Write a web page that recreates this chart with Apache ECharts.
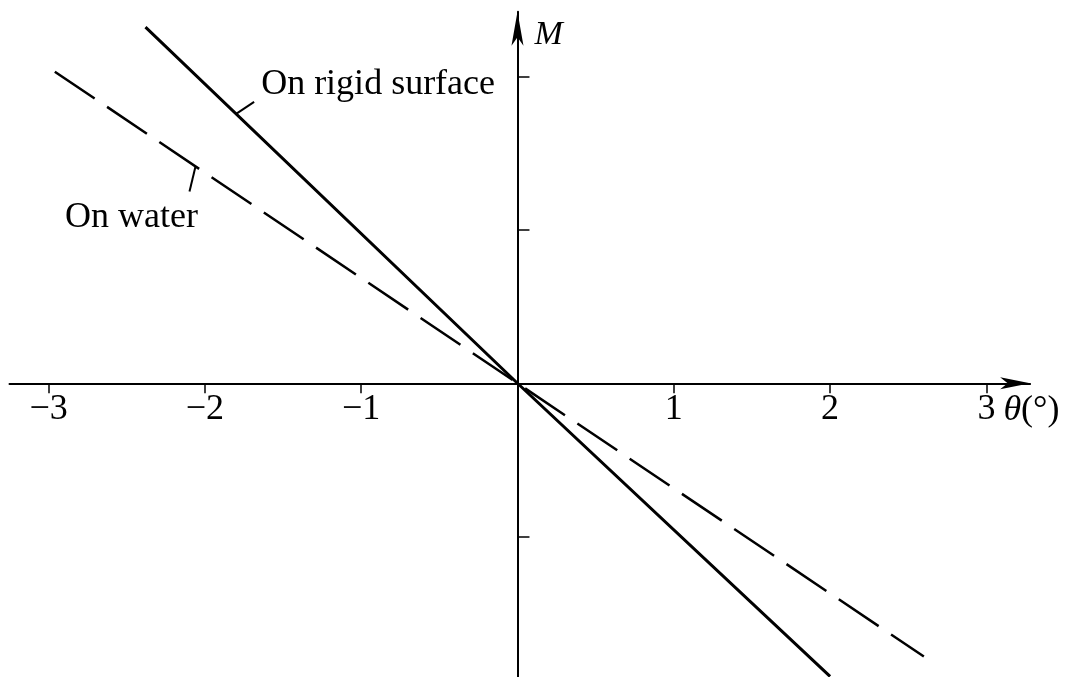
<!DOCTYPE html>
<html>
<head>
<meta charset="utf-8">
<script src="https://cdn.jsdelivr.net/npm/echarts@6/dist/echarts.min.js"></script>
<style>
  html, body { margin: 0; padding: 0; background: #ffffff; }
  #chart { width: 1087px; height: 677px; }
</style>
</head>
<body>
<div id="chart"></div>
<script>
// Tick positions on each axis (degrees on θ, moment units on M)
const thetaTicks = [-3, -2, -1, 1, 2, 3];
const momentTicks = [-1, 1, 2];

// Moment vs. trim angle for the two cases
const rigidTheta = [-2.38, 0, 2.0];
const rigidM = [2.32, 0, -1.91];
const waterTheta = [-2.96, 0, 2.60];
const waterM = [2.03, 0, -1.78];

const seriesNames = ['On rigid surface', 'On water'];
const thetaName = 'θ';
const momentName = 'M';

const FONT = '"Liberation Serif", "Times New Roman", serif';
const INK = '#000000';

// Axis ranges (the arrow tips sit at the range ends)
const THETA_MIN = -3.25, THETA_MAX = 3.28;
const M_MIN = -1.92, M_MAX = 2.42;

// Plot geometry
const PX_LEFT = 9.5, PX_TOP = 11.8;
const PX_PER_THETA = 156.3, PX_PER_M = 153.5;
const plotW = (THETA_MAX - THETA_MIN) * PX_PER_THETA;
const plotH = (M_MAX - M_MIN) * PX_PER_M;
const upperH = M_MAX * PX_PER_M;   // height from top down to M = 0

const chart = echarts.init(document.getElementById('chart'), null, { renderer: 'canvas' });

function pairs(xs, ys) { return xs.map((x, i) => [x, ys[i]]); }
function valueAt(xs, ys, t) {
  for (let i = 0; i < xs.length - 1; i++) {
    if (t >= xs[i] && t <= xs[i + 1]) {
      const f = (t - xs[i]) / (xs[i + 1] - xs[i]);
      return ys[i] + f * (ys[i + 1] - ys[i]);
    }
  }
  return ys[ys.length - 1];
}
function minusSign(v) { return String(v).replace('-', '\u2212'); }

chart.setOption({
  backgroundColor: '#ffffff',
  animation: false,
  grid: [
    // full plotting area for the curves and the M axis
    { left: PX_LEFT, top: PX_TOP, width: plotW, height: plotH, containLabel: false, outerBoundsMode: 'none' },
    // upper half only: its bottom edge is the θ axis (M = 0)
    { left: PX_LEFT, top: PX_TOP, width: plotW, height: upperH, containLabel: false, outerBoundsMode: 'none' }
  ],
  xAxis: [
    {
      gridIndex: 0,
      type: 'value',
      min: THETA_MIN,
      max: THETA_MAX,
      show: false
    },
    {
      gridIndex: 1,
      type: 'value',
      position: 'bottom',
      min: THETA_MIN,
      max: THETA_MAX,
      splitLine: { show: false },
      axisLine: {
        onZero: false,
        symbol: ['none', 'arrow'],
        symbolSize: [9, 30],
        lineStyle: { color: INK, width: 2 }
      },
      axisTick: {
        show: true,
        customValues: thetaTicks,
        inside: false,
        length: 10,
        lineStyle: { color: INK, width: 1.5 }
      },
      axisLabel: {
        customValues: thetaTicks,
        formatter: minusSign,
        margin: 8,
        color: INK,
        fontFamily: FONT,
        fontSize: 36
      }
    }
  ],
  yAxis: [
    {
      gridIndex: 0,
      type: 'value',
      min: M_MIN,
      max: M_MAX,
      splitLine: { show: false },
      axisLine: {
        onZero: true,
        symbol: ['none', 'arrow'],
        symbolSize: [9, 34],
        lineStyle: { color: INK, width: 2 }
      },
      axisTick: {
        show: true,
        customValues: momentTicks,
        inside: true,
        length: 12,
        lineStyle: { color: INK, width: 1.5 }
      },
      axisLabel: { show: false }
    },
    {
      gridIndex: 1,
      type: 'value',
      min: 0,
      max: M_MAX,
      show: false
    }
  ],
  series: [
    {
      name: seriesNames[0],
      type: 'line',
      xAxisIndex: 0,
      yAxisIndex: 0,
      data: pairs(rigidTheta, rigidM),
      showSymbol: false,
      clip: false,
      lineStyle: { color: INK, width: 3 }
    },
    {
      name: seriesNames[1],
      type: 'line',
      xAxisIndex: 0,
      yAxisIndex: 0,
      data: pairs(waterTheta, waterM),
      showSymbol: false,
      clip: false,
      lineStyle: { color: INK, width: 2.5, type: [48, 15] }
    }
  ]
});

// Leader lines and labels anchored to points on each curve
const rigidAnchorT = -1.80;
const waterAnchorT = -2.06;
const a = chart.convertToPixel({ gridIndex: 0 }, [rigidAnchorT, valueAt(rigidTheta, rigidM, rigidAnchorT)]);
const b = chart.convertToPixel({ gridIndex: 0 }, [waterAnchorT, valueAt(waterTheta, waterM, waterAnchorT)]);
const origin = chart.convertToPixel({ gridIndex: 0 }, [0, 0]);
const lastTick = chart.convertToPixel({ gridIndex: 0 }, [thetaTicks[thetaTicks.length - 1], 0]);
const topEnd = chart.convertToPixel({ gridIndex: 0 }, [0, M_MAX]);

chart.setOption({
  graphic: [
    {
      type: 'line',
      shape: { x1: a[0], y1: a[1], x2: a[0] + 18, y2: a[1] - 12 },
      style: { stroke: INK, lineWidth: 2 }
    },
    {
      type: 'text',
      x: a[0] + 25, y: a[1] - 29,
      style: { text: seriesNames[0], fill: INK, font: '36px ' + FONT, align: 'left', verticalAlign: 'middle' }
    },
    {
      type: 'line',
      shape: { x1: b[0], y1: b[1], x2: b[0] - 6, y2: b[1] + 25 },
      style: { stroke: INK, lineWidth: 2 }
    },
    {
      type: 'text',
      x: b[0] - 64, y: b[1] + 51,
      style: { text: seriesNames[1], fill: INK, font: '36px ' + FONT, align: 'center', verticalAlign: 'middle' }
    },
    {
      type: 'text',
      x: origin[0] + 17, y: topEnd[1] + 23,
      style: { text: momentName, fill: INK, font: 'italic 34px ' + FONT, align: 'left', verticalAlign: 'middle' }
    },
    {
      type: 'text',
      x: lastTick[0] + 17, y: lastTick[1] + 27,
      style: {
        text: '{i|' + thetaName + '}(°)',
        fill: INK,
        font: '36px ' + FONT,
        align: 'left',
        verticalAlign: 'middle',
        rich: {
          i: { fontStyle: 'italic', fontFamily: FONT, fontSize: 36, fill: INK }
        }
      }
    }
  ]
});
</script>
</body>
</html>
